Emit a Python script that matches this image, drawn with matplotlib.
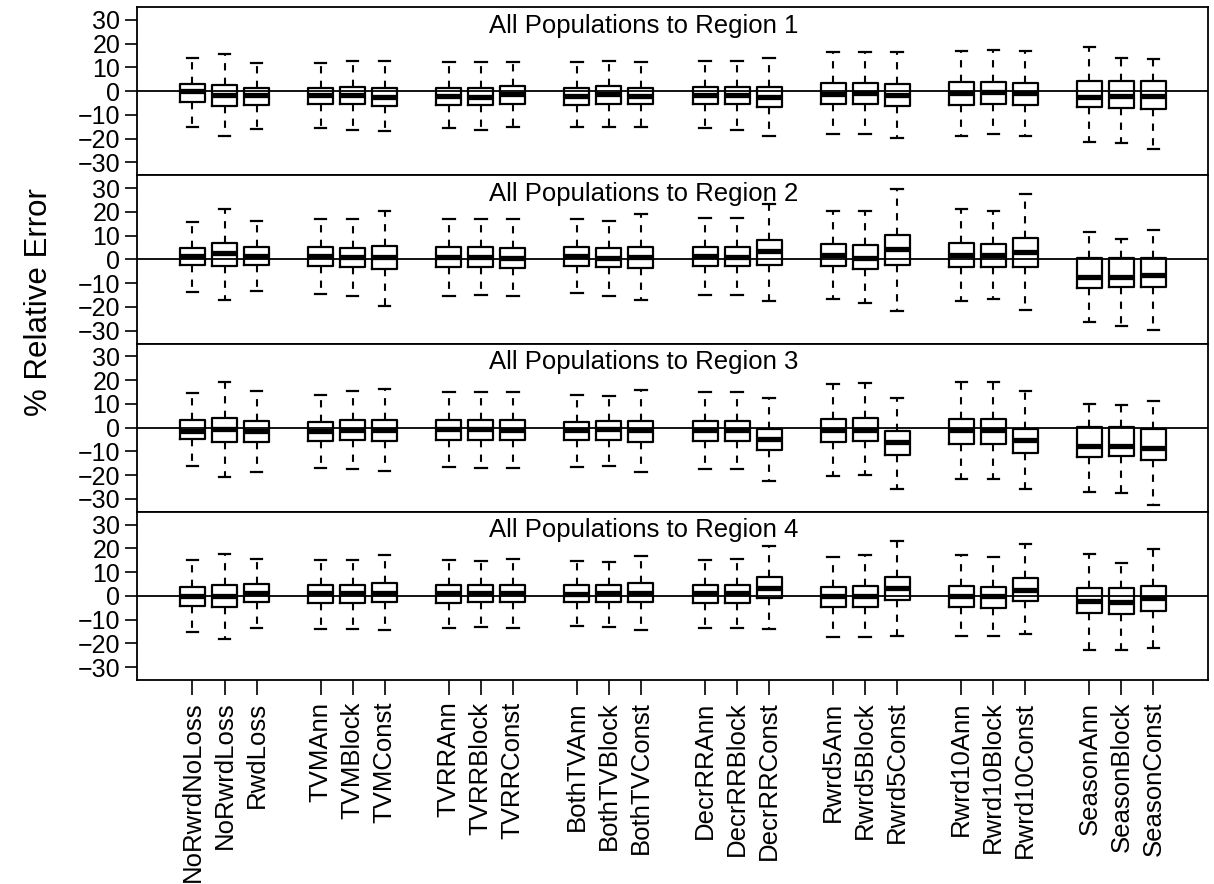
import matplotlib
matplotlib.use("Agg")
import matplotlib.pyplot as plt

plt.rcParams['font.family'] = ['Liberation Sans', 'DejaVu Sans']

# scenario names, 8 groups of 3
labels = ["NoRwrdNoLoss", "NoRwrdLoss", "RwdLoss",
          "TVMAnn", "TVMBlock", "TVMConst",
          "TVRRAnn", "TVRRBlock", "TVRRConst",
          "BothTVAnn", "BothTVBlock", "BothTVConst",
          "DecrRRAnn", "DecrRRBlock", "DecrRRConst",
          "Rwrd5Ann", "Rwrd5Block", "Rwrd5Const",
          "Rwrd10Ann", "Rwrd10Block", "Rwrd10Const",
          "SeasonAnn", "SeasonBlock", "SeasonConst"]

titles = ["All Populations to Region 1", "All Populations to Region 2",
          "All Populations to Region 3", "All Populations to Region 4"]

# (lower whisker, Q1, median, Q3, upper whisker) per scenario
region1 = [(-15.2, -4.5, -0.1, 2.9, 13.9), (-19.0, -6.2, -1.4, 2.5, 15.7), (-15.9, -5.8, -1.8, 1.4, 11.8),
           (-15.3, -5.3, -1.8, 1.5, 11.9), (-16.2, -5.5, -1.5, 1.8, 12.8), (-16.7, -6.2, -2.5, 1.3, 12.5),
           (-15.3, -5.8, -2.1, 1.5, 12.2), (-16.3, -6.0, -2.4, 1.4, 12.2), (-15.2, -5.2, -1.1, 2.0, 12.2),
           (-15.2, -5.8, -2.1, 1.4, 12.2), (-15.2, -5.2, -1.1, 2.0, 12.5), (-15.2, -5.5, -2.0, 1.5, 12.2),
           (-15.3, -5.5, -1.5, 1.7, 12.5), (-16.3, -5.5, -1.5, 1.7, 12.5), (-18.8, -6.7, -2.5, 1.7, 13.8),
           (-18.1, -5.6, -1.0, 3.4, 16.4), (-18.1, -5.3, -0.6, 3.4, 16.4), (-19.5, -6.2, -1.4, 3.1, 16.7),
           (-18.7, -5.8, -0.7, 3.8, 17.1), (-18.1, -5.5, -0.4, 3.9, 17.4), (-18.8, -5.9, -0.7, 3.4, 17.0),
           (-21.5, -6.7, -2.4, 4.2, 18.8), (-21.9, -6.9, -2.2, 4.1, 13.9), (-24.4, -7.7, -2.2, 4.2, 13.5)]

region2 = [(-13.8, -2.5, 1.4, 4.9, 15.9), (-16.9, -2.9, 2.5, 7.0, 21.2), (-13.5, -2.4, 1.5, 5.2, 16.2),
           (-14.6, -2.8, 1.4, 5.2, 16.9), (-15.4, -3.4, 1.0, 4.9, 16.9), (-19.4, -4.2, 1.0, 5.8, 20.4),
           (-15.2, -3.1, 1.1, 5.1, 16.9), (-14.9, -3.1, 1.1, 5.1, 16.9), (-15.4, -3.7, 0.8, 4.6, 16.9),
           (-14.2, -2.7, 1.5, 5.3, 16.9), (-15.3, -3.4, 0.8, 4.6, 16.3), (-17.1, -3.7, 1.1, 5.3, 19.1),
           (-14.9, -2.7, 1.4, 5.3, 17.6), (-14.9, -2.9, 1.1, 5.2, 17.6), (-17.3, -2.2, 3.5, 8.1, 23.5),
           (-16.7, -2.9, 1.8, 6.5, 20.2), (-18.5, -3.9, 0.8, 5.9, 20.4), (-21.8, -2.5, 4.2, 10.4, 29.5),
           (-17.7, -3.2, 1.7, 6.7, 21.3), (-16.7, -3.1, 1.7, 6.5, 20.4), (-21.1, -3.4, 3.1, 9.0, 27.5),
           (-26.3, -12.1, -7.6, 0.6, 11.7), (-27.9, -11.8, -7.3, 0.4, 8.8), (-29.8, -11.8, -6.6, 0.4, 12.2)]

region3 = [(-16.2, -4.6, -1.3, 3.2, 14.5), (-20.9, -6.2, -0.7, 4.2, 19.4), (-18.7, -5.9, -1.3, 2.8, 15.6),
           (-17.1, -5.5, -1.3, 2.5, 13.8), (-17.6, -5.3, -1.0, 3.1, 15.4), (-18.3, -5.5, -1.0, 3.4, 16.3),
           (-16.6, -5.1, -0.7, 3.1, 14.9), (-16.9, -5.1, -0.7, 3.1, 14.9), (-16.9, -5.2, -0.8, 3.1, 14.9),
           (-16.4, -5.2, -1.0, 2.5, 13.8), (-16.2, -5.1, -0.7, 2.9, 13.5), (-18.8, -6.0, -1.1, 2.9, 15.9),
           (-17.3, -5.6, -1.1, 2.7, 15.0), (-17.3, -5.6, -1.1, 2.8, 15.0), (-22.6, -9.6, -4.9, -0.7, 12.6),
           (-20.5, -6.0, -1.1, 3.7, 18.5), (-20.1, -5.8, -0.8, 4.1, 18.8), (-25.8, -11.7, -6.2, -1.5, 12.6),
           (-21.5, -6.9, -1.1, 3.7, 19.2), (-21.5, -6.7, -1.1, 3.7, 19.2), (-26.0, -10.8, -5.3, -0.4, 15.3),
           (-27.0, -12.2, -7.7, 0.3, 9.8), (-27.4, -12.1, -7.6, 0.3, 9.6), (-32.6, -13.6, -8.6, -0.4, 11.0)]

region4 = [(-15.4, -4.2, -0.1, 3.7, 15.0), (-18.3, -4.8, 0.0, 4.4, 17.8), (-13.5, -2.7, 1.1, 4.9, 15.7),
           (-13.8, -2.8, 1.0, 4.5, 15.0), (-13.8, -2.8, 1.0, 4.5, 15.3), (-14.2, -2.7, 1.4, 5.5, 17.1),
           (-13.6, -2.8, 1.0, 4.5, 15.3), (-13.2, -2.7, 1.0, 4.5, 14.7), (-13.5, -2.7, 1.1, 4.6, 15.7),
           (-12.6, -2.5, 0.8, 4.4, 14.6), (-12.9, -2.7, 1.0, 4.4, 14.3), (-14.2, -2.4, 1.4, 5.5, 16.9),
           (-13.5, -2.8, 1.0, 4.5, 15.3), (-13.5, -2.8, 1.0, 4.5, 15.7), (-13.8, -1.0, 3.5, 8.0, 20.9),
           (-17.3, -4.8, -0.1, 3.8, 16.4), (-17.3, -4.8, 0.0, 4.1, 17.1), (-16.7, -1.8, 3.1, 8.1, 23.0),
           (-17.0, -4.5, 0.0, 4.2, 17.1), (-17.0, -4.9, -0.1, 3.7, 16.2), (-16.0, -2.2, 2.5, 7.6, 21.8),
           (-22.9, -7.3, -2.1, 3.5, 17.8), (-22.9, -7.7, -2.7, 3.2, 14.0), (-21.9, -6.5, -0.7, 4.2, 19.9)]

regions = [region1, region2, region3, region4]

# slots 1..31, a blank slot after every group of three
positions = [g * 4 + i + 1 for g in range(8) for i in range(3)]

fig = plt.figure(figsize=(12.14, 8.84), dpi=100)
gs = fig.add_gridspec(4, 1, left=0.1129, right=0.995, top=0.992, bottom=0.2308, hspace=0)

for k, data in enumerate(regions):
    ax = fig.add_subplot(gs[k])
    stats = [dict(whislo=lo, q1=q1, med=md, q3=q3, whishi=hi, fliers=[])
             for lo, q1, md, q3, hi in data]
    ax.bxp(stats, positions=positions, widths=0.78, capwidths=0.36,
           showfliers=False, patch_artist=False,
           boxprops=dict(color='black', linewidth=1.6),
           medianprops=dict(color='black', linewidth=3.8, solid_capstyle='butt'),
           whiskerprops=dict(color='black', linewidth=1.5, linestyle=(0, (3.5, 3.5))),
           capprops=dict(color='black', linewidth=1.6))
    ax.axhline(0, color='black', linewidth=1.3, zorder=5)
    ax.set_xlim(-0.73, 32.7)
    ax.set_ylim(-35.4, 35.4)
    ax.set_yticks([-30, -20, -10, 0, 10, 20, 30])
    ax.tick_params(axis='y', direction='out', length=9, width=1.2, pad=3, labelsize=18)
    for s in ax.spines.values():
        s.set_linewidth(1.3)
    ax.text(0.473, 0.96, titles[k], transform=ax.transAxes, ha='center', va='top', fontsize=18.5)
    if k < 3:
        ax.set_xticks([])
    else:
        ax.set_xticks(positions)
        ax.set_xticklabels(labels, rotation=90, fontsize=18.5)
        ax.tick_params(axis='x', direction='out', length=10.5, width=1.2, pad=5)

fig.text(0.032, 1 - 302 / 884, "% Relative Error", rotation=90, ha='center', va='center', fontsize=22.5)

fig.savefig("out.png", dpi=100)
